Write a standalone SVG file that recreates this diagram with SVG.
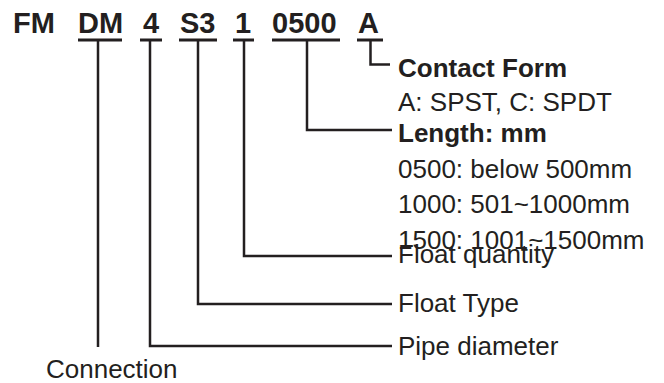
<svg xmlns="http://www.w3.org/2000/svg" width="664" height="383" viewBox="0 0 664 383">
<style>
.t{font-family:"Liberation Sans",Arial,sans-serif;fill:#231f20}
.title{font-size:29px;font-weight:bold}
.b{font-size:26px;font-weight:bold}
.r{font-size:26px}
.ul{stroke:#231f20;stroke-width:3;fill:none}
.ln{stroke:#231f20;stroke-width:2.5;fill:none}
</style>
<rect width="664" height="383" fill="#fff"/>
<g id="code">
<text class="t title" x="13" y="33">FM</text>
<text class="t title" x="78" y="33">DM</text>
<text class="t title" x="143" y="33">4</text>
<text class="t title" x="180" y="33">S3</text>
<text class="t title" x="235" y="33">1</text>
<text class="t title" x="272" y="33">0500</text>
<text class="t title" x="358" y="33">A</text>
<line class="ul" x1="78" y1="40" x2="122" y2="40"/>
<line class="ul" x1="140" y1="40" x2="162" y2="40"/>
<line class="ul" x1="179" y1="40" x2="217" y2="40"/>
<line class="ul" x1="233" y1="40" x2="254" y2="40"/>
<line class="ul" x1="272" y1="40" x2="340" y2="40"/>
<line class="ul" x1="357" y1="40" x2="383" y2="40"/>
</g>
<g id="connectors">
<polyline class="ln" points="370.5,40 370.5,64.5 390,64.5"/>
<polyline class="ln" points="307,40 307,130 392,130"/>
<polyline class="ln" points="244,40 244,256 392,256"/>
<polyline class="ln" points="198,40 198,304 392,304"/>
<polyline class="ln" points="150,40 150,346 392,346"/>
<line class="ln" x1="98" y1="40" x2="98" y2="347"/>
</g>
<g id="contact-form">
<text class="t b" x="398" y="77">Contact Form</text>
<text class="t r" x="398" y="111">A: SPST, C: SPDT</text>
</g>
<g id="length">
<text class="t b" x="398" y="142">Length: mm</text>
<text class="t r" x="398" y="178">0500: below 500mm</text>
<text class="t r" x="398" y="213">1000: 501~1000mm</text>
<text class="t r" x="398" y="249">1500: 1001~1500mm</text>
</g>
<g id="float-quantity"><text class="t r" x="398" y="263">Float quantity</text></g>
<g id="float-type"><text class="t r" x="398" y="312">Float Type</text></g>
<g id="pipe-diameter"><text class="t r" x="398" y="355">Pipe diameter</text></g>
<g id="connection"><text class="t r" x="46" y="378">Connection</text></g>
</svg>
